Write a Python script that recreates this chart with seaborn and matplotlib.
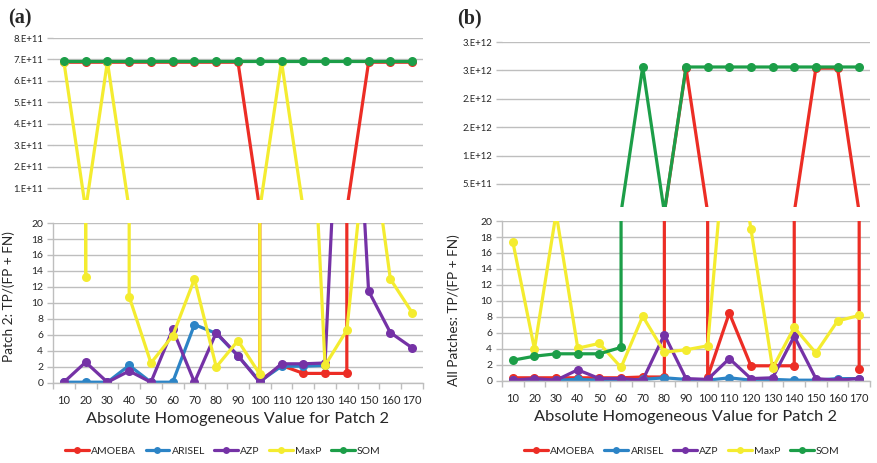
import math
import numpy as np
import matplotlib
matplotlib.use("Agg")
import matplotlib.pyplot as plt
from matplotlib.lines import Line2D
from matplotlib.ticker import FuncFormatter, FixedLocator
import seaborn as sns

# ---------------- data ----------------
x_vals = [10, 20, 30, 40, 50, 60, 70, 80, 90, 100, 110, 120, 130, 140, 150, 160, 170]
series_names = ["AMOEBA", "ARISEL", "AZP", "MaxP", "SOM"]
series_colors = ["#EC2D25", "#2C84C6", "#7532A6", "#F4EC30", "#1C9E48"]

nan = float("nan")

# Panel (a): Patch 2
a_amoeba = [6.87e11, 6.87e11, 6.87e11, 6.87e11, 6.87e11, 6.87e11, 6.87e11, 6.87e11, 6.87e11,
            0.3, 2.2, 1.2, 1.2, 1.2, 6.87e11, 6.87e11, 6.87e11]
a_arisel = [0.1, 0.1, 0.1, 2.2, 0.1, 0.1, 7.3, 6.2, 3.4, 0.2, 2.1, 2.1, 2.2, nan, nan, nan, nan]
a_azp = [0.1, 2.6, 0.1, 1.5, 0.1, 6.7, 0.1, 6.3, 3.4, 0.1, 2.4, 2.4, 2.5, 60.0, 11.5, 6.3, 4.4]
a_maxp = [6.9e11, 13.3, 6.9e11, 10.8, 2.5, 5.9, 13.0, 2.0, 5.3, 1.1, 6.9e11, 58.0, 2.2, 6.6, 33.0, 13.0, 8.8]
a_som = [6.93e11, 6.93e11, 6.93e11, 6.93e11, 6.93e11, 6.93e11, 6.93e11, 6.93e11, 6.93e11,
         6.93e11, 6.93e11, 6.93e11, 6.93e11, 6.93e11, 6.93e11, 6.93e11, 6.93e11]

# Panel (b): All patches
b_amoeba = [0.4, 0.4, 0.4, 0.4, 0.4, 0.4, 0.5, 0.5, 2.54e12, 0.5, 8.5, 1.9, 1.9, 1.9,
            2.54e12, 2.54e12, 1.5]
b_arisel = [0.1, 0.1, 0.1, 0.2, 0.1, 0.1, 0.2, 0.4, 0.2, 0.1, 0.4, 0.1, 0.2, 0.1, 0.1, 0.3, 0.3]
b_azp = [0.1, 0.3, 0.1, 1.4, 0.3, 0.3, 0.1, 5.8, 0.3, 0.2, 2.8, 0.3, 0.4, 5.6, 0.3, 0.1, 0.3]
b_maxp = [17.4, 4.0, 21.0, 4.1, 4.7, 1.7, 8.1, 3.6, 3.9, 4.4, 36.0, 19.0, 1.6, 6.7, 3.5, 7.5, 8.2]
b_som = [2.6, 3.1, 3.4, 3.4, 3.4, 4.2, 2.56e12, 1000.0, 2.56e12, 2.56e12, 2.56e12, 2.56e12,
         2.56e12, 2.56e12, 2.56e12, 2.56e12, 2.56e12]

a_series = [a_amoeba, a_arisel, a_azp, a_maxp, a_som]
b_series = [b_amoeba, b_arisel, b_azp, b_maxp, b_som]

a_top_ticks = [1e11, 2e11, 3e11, 4e11, 5e11, 6e11, 7e11, 8e11]
b_top_ticks = [5e11, 1e12, 1.5e12, 2e12, 2.5e12, 3e12]
low_ticks = [0, 2, 4, 6, 8, 10, 12, 14, 16, 18, 20]

# ---------------- style ----------------
sns.set_theme(style="white")
plt.rcParams["font.family"] = ["Lato", "DejaVu Sans"]
GRID = "#BEBEBE"
TXT = "#262626"


def excel_fmt(v, pos=None):
    if v <= 0:
        return "0"
    e = int(math.floor(math.log10(v)))
    m = v / 10 ** e
    mr = int(math.floor(m + 0.5 + 1e-9))
    if mr == 10:
        mr = 1
        e += 1
    return f"{mr}.E+{e:02d}"


fig = plt.figure(figsize=(8.77, 4.63), dpi=100)
W, H = 877.0, 463.0


def add_ax(l, r, t, b):
    return fig.add_axes([l / W, 1 - b / H, (r - l) / W, (b - t) / H])


panels = [
    dict(series=a_series, top=(53, 423, 38, 200), bot=(53, 423, 223, 383),
         ylim_top=(0.44e11, 8e11), top_ticks=a_top_ticks,
         ylabel="Patch 2: TP/(FP + FN)", ylabel_xy=(-0.103, 0.54),
         tag="(a)", tag_x=8, leg_x=223),
    dict(series=b_series, top=(502, 870, 42, 207), bot=(502, 870, 221, 381),
         ylim_top=(0.95e11, 3e12), top_ticks=b_top_ticks,
         ylabel="All Patches: TP/(FP + FN)", ylabel_xy=(-0.114, 0.44),
         tag="(b)", tag_x=457, leg_x=682),
]

for p in panels:
    ax_t = add_ax(*p["top"])
    ax_b = add_ax(*p["bot"])
    for ax in (ax_t, ax_b):
        for vals, name, col in zip(p["series"], series_names, series_colors):
            sns.lineplot(x=x_vals, y=vals, ax=ax, color=col, marker="o",
                         markersize=6.5, markeredgewidth=0, linewidth=2.3,
                         legend=False, sort=False, estimator=None, errorbar=None)
        ax.set_xlim(5, 175)
        ax.set_facecolor("white")
        for s in ["top", "right"]:
            ax.spines[s].set_visible(False)
        ax.set_xlabel("")
        ax.set_ylabel("")

    # top axes
    ax_t.set_ylim(*p["ylim_top"])
    ax_t.yaxis.set_major_locator(FixedLocator(p["top_ticks"]))
    ax_t.yaxis.set_major_formatter(FuncFormatter(excel_fmt))
    ax_t.grid(axis="y", color=GRID, linewidth=1.0)
    ax_t.set_axisbelow(True)
    ax_t.spines["left"].set_visible(False)
    ax_t.spines["bottom"].set_visible(False)
    ax_t.set_xticks([])
    ax_t.tick_params(axis="y", length=4, width=1.0, color=GRID, pad=3,
                     labelsize=6.8, labelcolor=TXT, left=True)

    # bottom axes
    ax_b.set_ylim(0, 20)
    ax_b.set_yticks(low_ticks)
    ax_b.grid(axis="y", color=GRID, linewidth=1.0)
    ax_b.set_axisbelow(True)
    ax_b.spines["left"].set_color(GRID)
    ax_b.spines["bottom"].set_color(GRID)
    ax_b.spines["left"].set_linewidth(1.0)
    ax_b.spines["bottom"].set_linewidth(1.0)
    ax_b.set_xticks(x_vals)
    ax_b.set_xticklabels([str(v) for v in x_vals])
    ax_b.set_xticks(list(range(5, 176, 10)), minor=True)
    ax_b.tick_params(axis="x", which="major", length=0, pad=9, labelsize=8, labelcolor=TXT)
    ax_b.tick_params(axis="x", which="minor", length=4, width=1.0, color=GRID, bottom=True)
    ax_b.tick_params(axis="y", length=4, width=1.0, color=GRID, pad=3, labelsize=7.5,
                     labelcolor=TXT, left=True)
    ax_b.set_xlabel("Absolute Homogeneous Value for Patch 2", fontsize=11.8, color=TXT,
                    labelpad=4)
    ax_b.set_ylabel(p["ylabel"], fontsize=9.8, color=TXT)
    ax_b.yaxis.set_label_coords(*p["ylabel_xy"])

    fig.text(p["tag_x"] / W, 1 - 18 / H, p["tag"], fontsize=14.5, fontweight="bold",
             family=["Liberation Serif", "DejaVu Serif"], va="center", ha="left")

    handles = [Line2D([], [], color=c, marker="o", linewidth=2.3, markersize=5,
                      markeredgewidth=0) for c in series_colors]
    fig.legend(handles, series_names, loc="center", ncol=5, frameon=False,
               bbox_to_anchor=(p["leg_x"] / W, 1 - 451 / H), fontsize=7.5,
               handlelength=2.3, handletextpad=0.2, columnspacing=0.9,
               labelcolor=TXT)

fig.savefig("out.png", dpi=100, facecolor="white")
